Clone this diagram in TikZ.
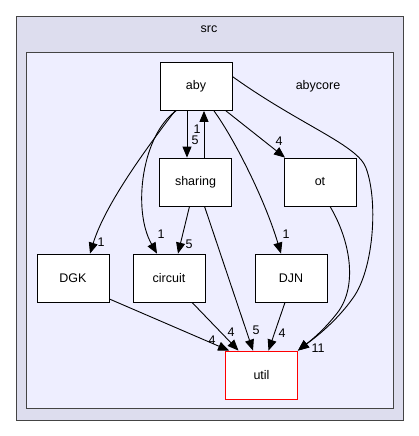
\documentclass[tikz,border=0pt]{standalone}
\usepackage{fontspec}
\setmainfont{Liberation Sans}
\usetikzlibrary{arrows.meta}
\definecolor{outerfill}{HTML}{DDDDEE}
\definecolor{innerfill}{HTML}{EEEEFF}
\definecolor{framegray}{HTML}{444444}

\begin{document}
\begin{tikzpicture}[x=1pt, y=-1pt,
    txt/.style={font=\fontsize{12.5}{14}\selectfont, inner sep=0pt},
    dir/.style={txt, draw=black, fill=white, line width=0.8pt, minimum width=72pt, minimum height=48pt},
    leaf/.style={dir, draw=red},
    dep/.style={line width=0.9pt, -{Triangle[length=11pt, width=9pt]}},
    num/.style={txt}
]
    \useasboundingbox (0,0) rectangle (419,436);

    % Clusters
    \draw[draw=framegray, fill=outerfill, line width=0.9pt] (16,16) rectangle (403,420);
    \node[txt] (srclbl) at (209,29) {src};
    \draw[draw=framegray, fill=innerfill, line width=0.9pt] (26,52) rectangle (393,408);
    \node[txt] (corelbl) at (318,86) {abycore};

    % Directories
    \node[dir] (aby) at (196,86.5) {aby};
    \node[dir] (sharing) at (195.5,182) {sharing};
    \node[dir] (ot) at (320,182) {ot};
    \node[dir] (dgk) at (73,278) {DGK};
    \node[dir] (circuit) at (169,278) {circuit};
    \node[dir] (djn) at (291,278) {DJN};
    \node[leaf] (util) at (261.5,375) {util};

    % aby <-> sharing
    \draw[dep] ([xshift=-9pt]aby.south) -- ([xshift=-8.5pt]sharing.north);
    \node[num] (l1) at (195,140) {5};
    \draw[dep] ([xshift=8.5pt]sharing.north) -- ([xshift=8pt]aby.south);
    \node[num] (l2) at (197,129) {1};

    % aby -> others
    \draw[dep] ([xshift=30pt]aby.south) -- ([xshift=-35pt]ot.north);
    \node[num] (l3) at (279,141) {4};
    \draw[dep] ([xshift=-21pt]aby.south) .. controls (145,150) and (105,205) .. ([xshift=17pt]dgk.north);
    \node[num] (l4) at (101,242) {1};
    \draw[dep] ([xshift=-20pt]aby.south) .. controls (142,135) and (132,210) .. ([xshift=-12pt]circuit.north);
    \node[num] (l5) at (161,234) {1};
    \draw[dep] ([xshift=18pt]aby.south) .. controls (235,140) and (265,200) .. ([xshift=-10pt]djn.north);
    \node[num] (l6) at (286,234) {1};
    \draw[dep] ([yshift=10pt]aby.east) .. controls (300,125) and (358,145) .. (366,168)
        .. controls (378,200) and (374,265) .. (355,295)
        .. controls (335,325) and (305,345) .. (util.north east);
    \node[num] (l7) at (318,348) {11};

    % sharing -> others
    \draw[dep] ([xshift=-6pt]sharing.south) -- ([xshift=9pt]circuit.north);
    \node[num] (l9) at (189,244) {5};
    \draw[dep] ([xshift=9pt]sharing.south) -- ([xshift=-8.5pt]util.north);
    \node[num] (l10) at (256,330) {5};

    % ot, DGK, circuit, DJN -> util
    \draw[dep] ([xshift=10pt]ot.south) .. controls (350,240) and (358,285) .. (338,312)
        .. controls (322,333) and (305,345) .. (util.north east);
    \draw[dep] ([yshift=-21pt]dgk.east) -- ([xshift=4pt]util.north west);
    \node[num] (l11) at (212,340) {4};
    \draw[dep] ([xshift=23pt]circuit.south) -- ([xshift=-23pt]util.north);
    \node[num] (l12) at (231,332) {4};
    \draw[dep] ([xshift=-6pt]djn.south) -- ([xshift=7pt]util.north);
    \node[num] (l13) at (282,333) {4};
\end{tikzpicture}
\end{document}
